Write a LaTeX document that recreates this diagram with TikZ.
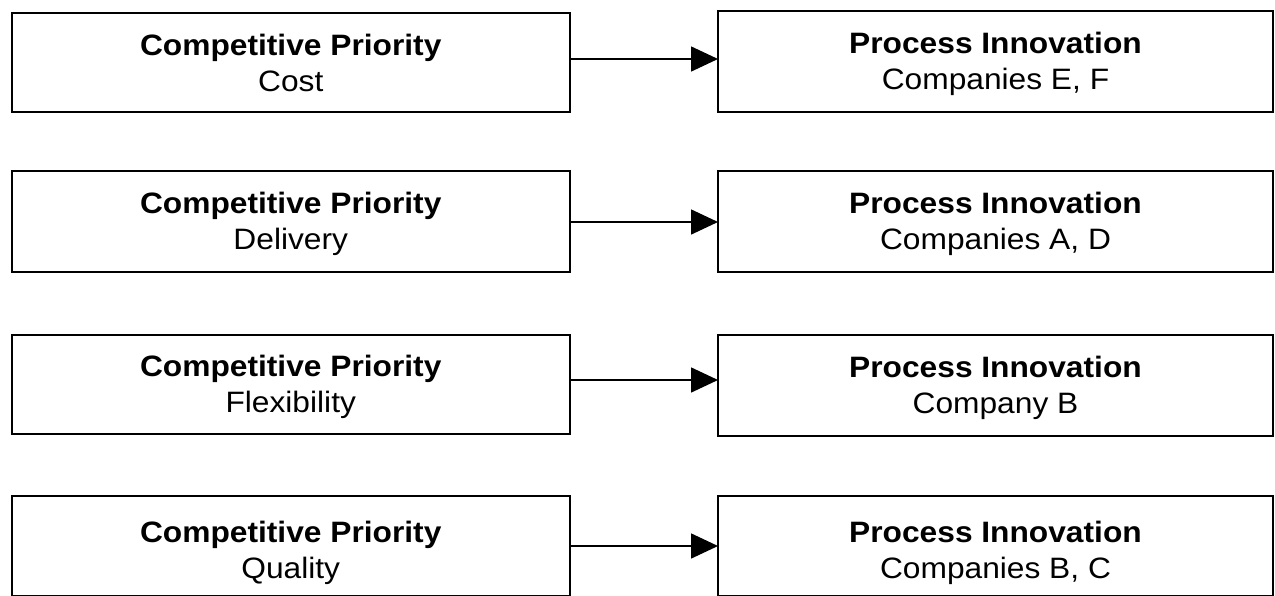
\documentclass[tikz,border=0pt]{standalone}
\usepackage{fontspec}
\setmainfont[FakeStretch=1.075]{Liberation Sans}
\usetikzlibrary{arrows.meta}
\newcommand\boxtext[2]{\rule{0pt}{26.5pt}\textbf{#1}\\#2\rule[-5pt]{0pt}{5pt}}
\newcommand\boxtextlow[2]{\rule{0pt}{35pt}\textbf{#1}\\#2\rule[-2.5pt]{0pt}{2.5pt}}
\begin{document}
\begin{tikzpicture}[x=1pt,y=-1pt,
  box/.style={draw=black,line width=2.2pt,inner sep=0pt,outer sep=0pt,align=center,
              font=\fontsize{29.5}{36.5}\selectfont},
  lbox/.style={box,minimum width=558pt},
  rbox/.style={box,minimum width=555pt},
  conn/.style={line width=1.6pt,-{Triangle[length=27pt,width=25pt]}}]
\useasboundingbox (0,0) rectangle (1275,595);
\node[lbox,minimum height=99pt]  (L1) at (290.75,62.5) {\boxtext{Competitive Priority}{Cost}};
\node[rbox,minimum height=101pt] (R1) at (995.5,61.5)  {\boxtext{Process Innovation}{Companies E, F}};
\node[lbox,minimum height=101pt] (L2) at (290.75,221.5) {\boxtext{Competitive Priority}{Delivery}};
\node[rbox,minimum height=101pt] (R2) at (995.5,221.5)  {\boxtext{Process Innovation}{Companies A, D}};
\node[lbox,minimum height=99pt]  (L3) at (290.75,384.5) {\boxtext{Competitive Priority}{Flexibility}};
\node[rbox,minimum height=101pt] (R3) at (995.5,385.5)  {\boxtext{Process Innovation}{Company B}};
\node[lbox,minimum height=100pt] (L4) at (290.75,546) {\boxtextlow{Competitive Priority}{Quality}};
\node[rbox,minimum height=100pt] (R4) at (995.5,546)  {\boxtextlow{Process Innovation}{Companies B, C}};
\draw[conn] ([yshift=3.5pt]L1.east) -- ([yshift=2.5pt]R1.west);
\draw[conn] ([yshift=-0.5pt]L2.east) -- ([yshift=-0.5pt]R2.west);
\draw[conn] ([yshift=4.5pt]L3.east) -- ([yshift=5.5pt]R3.west);
\draw[conn] (L4.east) -- (R4.west);
\end{tikzpicture}
\end{document}
